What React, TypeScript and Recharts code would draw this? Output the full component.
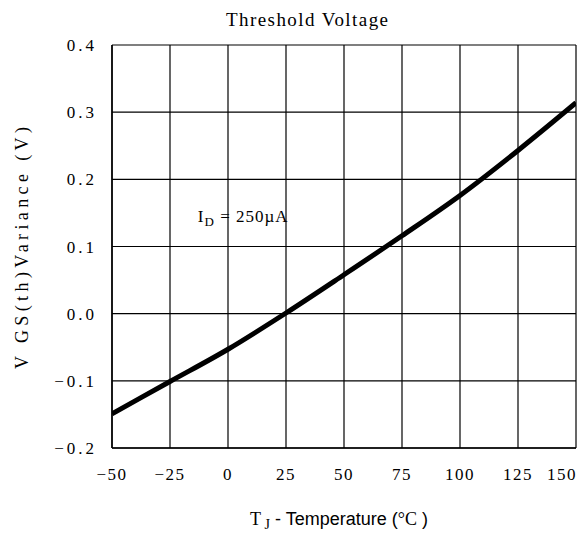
import { LineChart, Line, XAxis, YAxis, CartesianGrid, ReferenceDot, Customized } from 'recharts';

// Tj (°C) vs VGS(th) variance (V), ID = 250µA
const temps = [-50, -25, 0, 25, 50, 75, 100, 125, 150];
const variance = [-0.149, -0.101, -0.053, 0.001, 0.058, 0.116, 0.176, 0.243, 0.314];

const xTicks = [-50, -25, 0, 25, 50, 75, 100, 125, 150];
const yTicks = [-0.2, -0.1, 0.0, 0.1, 0.2, 0.3, 0.4];

const chartData = temps.map((t, i) => ({ t, v: variance[i] }));

const serif = '"Liberation Serif", "DejaVu Serif", serif';
const sans = '"Liberation Sans", Arial, sans-serif';

const minus = (s: string) => s.replace('-', '\u2212');

const Titles = () => (
  <g>
    <text x={307} y={26} textAnchor="middle" fontFamily={serif} fontSize={19} fill="#000" textLength={162} lengthAdjust="spacing">
      Threshold Voltage
    </text>
    <text
      x={0}
      y={0}
      transform="translate(28,248) rotate(-90)"
      textAnchor="middle"
      fontFamily={serif}
      fontSize={18}
      fill="#000"
      textLength={242}
      lengthAdjust="spacing"
    >
      V GS(th)Variance (V)
    </text>
    <text x={339} y={525} textAnchor="middle" fill="#000" fontSize={18}>
      <tspan fontFamily={serif}>T</tspan>
      <tspan fontFamily={serif} fontSize={14} dy={4}> J</tspan>
      <tspan fontFamily={sans} dy={-4}> - Temperature (</tspan>
      <tspan fontFamily={serif}>°C</tspan>
      <tspan fontFamily={sans}> )</tspan>
    </text>
  </g>
);

const IdLabel = ({ viewBox }: { viewBox?: { x: number; y: number } }) => {
  if (!viewBox) return null;
  return (
    <text x={viewBox.x} y={viewBox.y + 6} fill="#000" fontFamily={serif} fontSize={17} letterSpacing={1}>
      <tspan>I</tspan>
      <tspan fontSize={13} dy={4}>D</tspan>
      <tspan dy={-4}> =  250µA</tspan>
    </text>
  );
};

export default function App() {
  return (
    <div style={{ position: 'absolute', left: 0, top: 0, background: '#fff' }}>
      <LineChart width={577} height={534} data={chartData} margin={{ top: 45, right: 1, bottom: 0, left: 0 }}>
        <CartesianGrid stroke="#000" strokeWidth={1.2} horizontalValues={yTicks} verticalValues={xTicks} />
        <XAxis
          dataKey="t"
          type="number"
          domain={[-50, 150]}
          ticks={xTicks}
          height={86}
          tickLine={false}
          axisLine={{ stroke: '#000', strokeWidth: 1.5 }}
          tickMargin={14}
          tick={{ fill: '#000', fontFamily: serif, fontSize: 17, letterSpacing: 1.5 }}
          tickFormatter={(v: number) => minus(String(v))}
          allowDataOverflow
        />
        <YAxis
          type="number"
          domain={[-0.2, 0.4]}
          ticks={yTicks}
          width={112}
          tickLine={false}
          axisLine={{ stroke: '#000', strokeWidth: 1.5 }}
          tickMargin={9}
          tick={{ fill: '#000', fontFamily: serif, fontSize: 17, letterSpacing: 3 }}
          tickFormatter={(v: number) => minus(v.toFixed(1))}
          allowDataOverflow
        />
        <ReferenceDot x={-13} y={0.145} r={0} fill="none" stroke="none" label={<IdLabel />} />
        <Line
          type="monotone"
          dataKey="v"
          stroke="#000"
          strokeWidth={5}
          dot={false}
          isAnimationActive={false}
        />
        <Customized component={Titles} />
      </LineChart>
    </div>
  );
}
